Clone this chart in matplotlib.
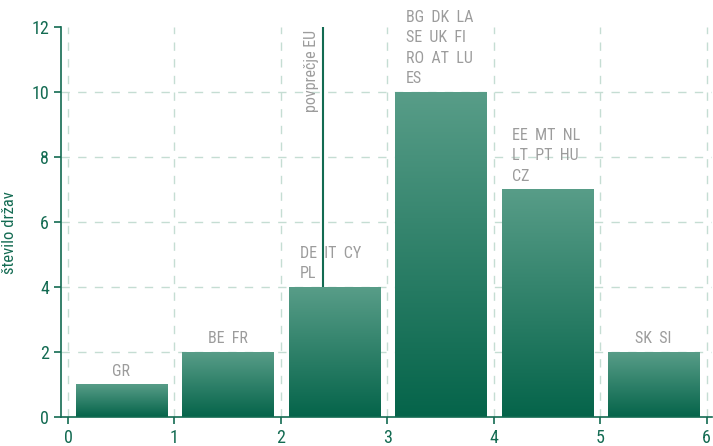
import matplotlib
matplotlib.use("Agg")
import matplotlib.pyplot as plt
import numpy as np
from matplotlib.colors import LinearSegmentedColormap

# histogram bins (lower edges) and number of countries
bin_left = [0, 1, 2, 3, 4, 5]
counts = [1, 2, 4, 10, 7, 2]
country_lines = [
    ["GR"],
    ["BE  FR"],
    ["DE  IT  CY", "PL"],
    ["BG  DK  LA", "SE  UK  FI", "RO  AT  LU", "ES"],
    ["EE  MT  NL", "LT  PT  HU", "CZ"],
    ["SK  SI"],
]
eu_avg = 2.4
yticks = [0, 2, 4, 6, 8, 10, 12]
xticks = [0, 1, 2, 3, 4, 5, 6]

GREEN = "#136b52"
GRAY = "#9c9c9c"
GRID = "#c5ddd3"
plt.rcParams["font.family"] = ["Roboto Condensed", "DejaVu Sans"]

fig = plt.figure(figsize=(7.13, 4.46), dpi=100)
ax = fig.add_axes([61 / 713, 1 - 417 / 446, (712 - 61) / 713, (417 - 27) / 446])
ax.set_xlim(-0.066, 6.05)
ax.set_ylim(0, 12)

for x in xticks:
    ax.axvline(x, color=GRID, lw=1, ls=(0, (6, 6)), zorder=0)
for y in yticks[1:-1]:
    ax.axhline(y, color=GRID, lw=1, ls=(0, (6, 6)), zorder=0)

# EU average line sits behind the bars
ax.plot([eu_avg, eu_avg], [0, 12], color=GREEN, lw=1.5, zorder=1)
ax.text(eu_avg - 0.045, 11.9, "povprečje EU", rotation=90, ha="right", va="top",
        color=GRAY, fontsize=11.5)

cmap = LinearSegmentedColormap.from_list("g", ["#05644a", "#589d88"])
grad = np.linspace(0, 1, 256).reshape(-1, 1)
bw = 0.864
for xl, c, lines in zip(bin_left, counts, country_lines):
    x0 = xl + 0.075
    ax.imshow(grad, cmap=cmap, origin="lower", aspect="auto",
              extent=(x0, x0 + bw, 0, c), zorder=2)
    if len(lines) == 1:
        ax.text(xl + 0.5, c + 0.18, lines[0], ha="center", va="bottom",
                color=GRAY, fontsize=11.5)
    else:
        n = len(lines)
        for i, t in enumerate(lines):
            ax.text(x0 + 0.1, c + 0.18 + (n - 1 - i) * 0.63, t, ha="left",
                    va="bottom", color=GRAY, fontsize=11.5)

ax.set_xticks(xticks)
ax.set_yticks(yticks)
ax.tick_params(colors=GREEN, labelcolor=GREEN, labelsize=13, length=5, width=1.2)
for s in ["top", "right"]:
    ax.spines[s].set_visible(False)
for s in ["left", "bottom"]:
    ax.spines[s].set_color(GREEN)
    ax.spines[s].set_linewidth(1.2)
ax.set_ylabel("število držav", color=GREEN, fontsize=12)
ax.yaxis.set_label_coords(-0.068, 0.474)

fig.savefig("out.png", dpi=100)
